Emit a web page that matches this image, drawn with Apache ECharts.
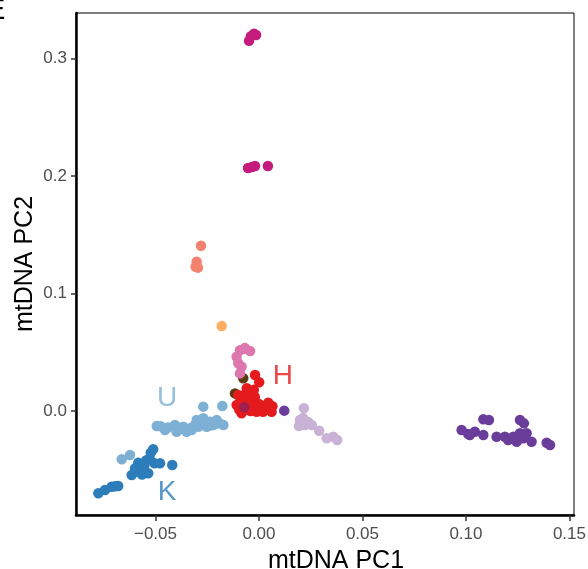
<!DOCTYPE html>
<html>
<head>
<meta charset="utf-8">
<script src="https://cdn.jsdelivr.net/npm/echarts@6/dist/echarts.min.js"></script>
<style>
  html, body { margin: 0; padding: 0; background: #fff; }
  #pca { width: 588px; height: 569px; }
</style>
</head>
<body>
<div id="pca"></div>
<script>
// tick marks and their labels
const xTickValues = [-0.05, 0, 0.05, 0.1, 0.15];
const xTickLabels = ['\u22120.05', '0.00', '0.05', '0.10', '0.15'];
const yTickValues = [0, 0.1, 0.2, 0.3];
const yTickLabels = ['0.0', '0.1', '0.2', '0.3'];

// haplogroup point clouds, [PC1, PC2]
const uLight = [
  [-0.0269, 0.0037], [-0.0177, 0.0043], [-0.0494, -0.0128], [-0.0454, -0.0162],
  [-0.0406, -0.0119], [-0.0398, -0.0176], [-0.0366, -0.0134], [-0.0325, -0.0162],
  [-0.0301, -0.0077], [-0.0269, -0.0062], [-0.0237, -0.0091], [-0.0204, -0.0077],
  [-0.0172, -0.0119], [-0.0293, -0.0134], [-0.0253, -0.0134], [-0.0349, -0.0176],
  [-0.0222, -0.0119], [-0.0193, -0.0102], [-0.0440, -0.0140], [-0.0360, -0.0160],
  [-0.0310, -0.0120], [-0.0280, -0.0100], [-0.0240, -0.0125], [-0.0210, -0.0110],
  [-0.0330, -0.0145], [-0.0385, -0.0145], [-0.0475, -0.0130],
  [-0.0663, -0.0411], [-0.0623, -0.0374]
];
const kDark = [
  [-0.0511, -0.0326], [-0.0523, -0.0355], [-0.0583, -0.0440], [-0.0551, -0.0445],
  [-0.0527, -0.0411], [-0.0478, -0.0445], [-0.0419, -0.0460], [-0.0615, -0.0545],
  [-0.0535, -0.0530], [-0.0680, -0.0638], [-0.0712, -0.0644], [-0.0744, -0.0672],
  [-0.0776, -0.0700], [-0.0599, -0.0488], [-0.0567, -0.0502], [-0.0555, -0.0475],
  [-0.0505, -0.0445], [-0.0545, -0.0420], [-0.0595, -0.0515], [-0.0565, -0.0540],
  [-0.0695, -0.0640]
];
const lilac = [
  [0.0217, 0.0023], [0.0198, -0.0077], [0.0222, -0.0119], [0.0255, -0.0119],
  [0.0193, -0.0128], [0.0291, -0.0168], [0.0327, -0.0232], [0.0359, -0.0219],
  [0.0378, -0.0247], [0.0213, -0.0060], [0.0237, -0.0094]
];
const purpleFar = [
  [0.0979, -0.0162], [0.1011, -0.0196], [0.1043, -0.0176], [0.1084, -0.0204],
  [0.1084, -0.0071], [0.1111, -0.0077], [0.1148, -0.0219], [0.1188, -0.0219],
  [0.1204, -0.0247], [0.1245, -0.0261], [0.1261, -0.0077], [0.1280, -0.0105],
  [0.1261, -0.0190], [0.1293, -0.0190], [0.1317, -0.0261], [0.1390, -0.0270],
  [0.1406, -0.0289], [0.1229, -0.0219], [0.1277, -0.0232], [0.1019, -0.0204]
];
const purpleNear = [[0.0122, 0.0003]];
const magenta = [
  [-0.0048, 0.315], [-0.0039, 0.319], [-0.0024, 0.321], [-0.0014, 0.320],
  [-0.0053, 0.2068], [-0.0034, 0.2077], [-0.0019, 0.2085], [0.0043, 0.2085]
];
const salmon = [[-0.0280, 0.1407], [-0.0301, 0.1270], [-0.0306, 0.1228], [-0.0295, 0.1220]];
const orange = [[-0.0180, 0.0723]];
const brown = [[-0.0076, 0.0278], [-0.0116, 0.0150]];
const hRed = [
  [-0.0068, 0.0533], [-0.0019, 0.0306], [0.0001, 0.0244], [-0.0059, 0.0193],
  [-0.0100, 0.0136], [-0.0043, 0.0151], [-0.0084, 0.0079], [-0.0052, 0.0037],
  [-0.0028, 0.0051], [0.0013, 0.0023], [0.0045, 0.0071], [0.0061, -0.0006],
  [-0.0084, -0.0020], [-0.0011, -0.0006], [-0.0108, 0.0051], [0.0019, -0.0006],
  [-0.0035, 0.0094], [-0.0060, 0.0010], [-0.0020, 0.0120], [0.0030, 0.0040],
  [-0.0070, 0.0105], [-0.0095, 0.0010], [-0.0080, 0.0060], [-0.0040, 0.0000],
  [0.0000, 0.0060], [-0.0060, 0.0160], [-0.0025, 0.0180], [0.0020, 0.0010],
  [0.0045, 0.0015], [-0.0090, 0.0110], [0.0065, 0.0040]
];
const pink = [
  [-0.0108, 0.0462], [-0.0092, 0.0517], [-0.0068, 0.0533], [-0.0043, 0.0510],
  [-0.0100, 0.0406], [-0.0084, 0.0377], [-0.0092, 0.0320]
];
const maroon = [[-0.0071, 0.0031]];

const groupLabels = ['U', 'K', 'H'];
const groupLabelAt = [[-0.0444, 0.011], [-0.0444, -0.069], [0.0116, 0.0298]];
const groupLabelColors = ['#7EB0D5', '#2D7DBA', '#E41A1C'];

const font = '"Liberation Sans", Arial, Helvetica, sans-serif';

const chart = echarts.init(document.getElementById('pca'), null, { renderer: 'canvas' });

const dots = (data, color) => ({
  type: 'scatter',
  data: data,
  symbolSize: 10.5,
  itemStyle: { color: color, opacity: 1 },
  silent: true
});

const labelFor = (values, labels) => (v) => {
  const i = values.findIndex(t => Math.abs(t - v) < 1e-9);
  return i >= 0 ? labels[i] : '';
};

chart.setOption({
  animation: false,
  backgroundColor: '#fff',
  textStyle: { fontFamily: font },
  grid: {
    left: 76, right: 14, top: 13, bottom: 54,
    outerBoundsMode: 'none',
    containLabel: false,
    show: true, borderColor: '#000', borderWidth: 1
  },
  xAxis: {
    type: 'value',
    min: -0.0884, max: 0.1522,
    name: 'mtDNA PC1',
    nameLocation: 'middle',
    nameGap: 34,
    nameMoveOverlap: false,
    nameTextStyle: { fontSize: 25, color: '#000', fontFamily: font, padding: [0, 0, 0, 22] },
    axisLine: { show: true, onZero: false, lineStyle: { color: '#000', width: 2.5 } },
    axisTick: { show: true, length: 6, customValues: xTickValues, lineStyle: { color: '#333', width: 1.5 } },
    axisLabel: {
      customValues: xTickValues,
      formatter: labelFor(xTickValues, xTickLabels),
      fontSize: 17, color: '#4D4D4D', margin: 11, fontFamily: font
    },
    splitLine: { show: false }
  },
  yAxis: {
    type: 'value',
    min: -0.0885, max: 0.3387,
    name: 'mtDNA PC2',
    nameLocation: 'middle',
    nameRotate: 90,
    nameGap: 38,
    nameMoveOverlap: false,
    nameTextStyle: { fontSize: 25, color: '#000', fontFamily: font },
    axisLine: { show: true, onZero: false, lineStyle: { color: '#000', width: 2.5 } },
    axisTick: { show: true, length: 5, customValues: yTickValues, lineStyle: { color: '#333', width: 1.5 } },
    axisLabel: {
      customValues: yTickValues,
      formatter: labelFor(yTickValues, yTickLabels),
      fontSize: 17, color: '#4D4D4D', margin: 9, fontFamily: font
    },
    splitLine: { show: false }
  },
  graphic: [{
    type: 'text', left: -14, top: -4,
    style: { text: 'E', fontSize: 29, fill: '#000', fontFamily: font }
  }],
  series: [
    dots(uLight, '#7EB0D5'),
    dots(kDark, '#2D7DBA'),
    dots(lilac, '#C9B2D6'),
    dots(purpleFar, '#6A3D9A'),
    dots(magenta, '#C51B7D'),
    dots(salmon, '#F3826F'),
    dots(orange, '#FDAE61'),
    dots(brown, '#5C3A12'),
    dots(hRed, '#E41A1C'),
    dots(pink, '#DE77AE'),
    dots(maroon, '#9E1F4F'),
    dots(purpleNear, '#6A3D9A'),
    {
      type: 'scatter',
      symbolSize: 0,
      silent: true,
      data: groupLabels.map((name, i) => ({
        name: name,
        value: groupLabelAt[i],
        label: { color: groupLabelColors[i] }
      })),
      label: {
        show: true, position: 'inside', formatter: '{b}',
        fontSize: 28, fontFamily: font
      }
    }
  ]
});
</script>
</body>
</html>
